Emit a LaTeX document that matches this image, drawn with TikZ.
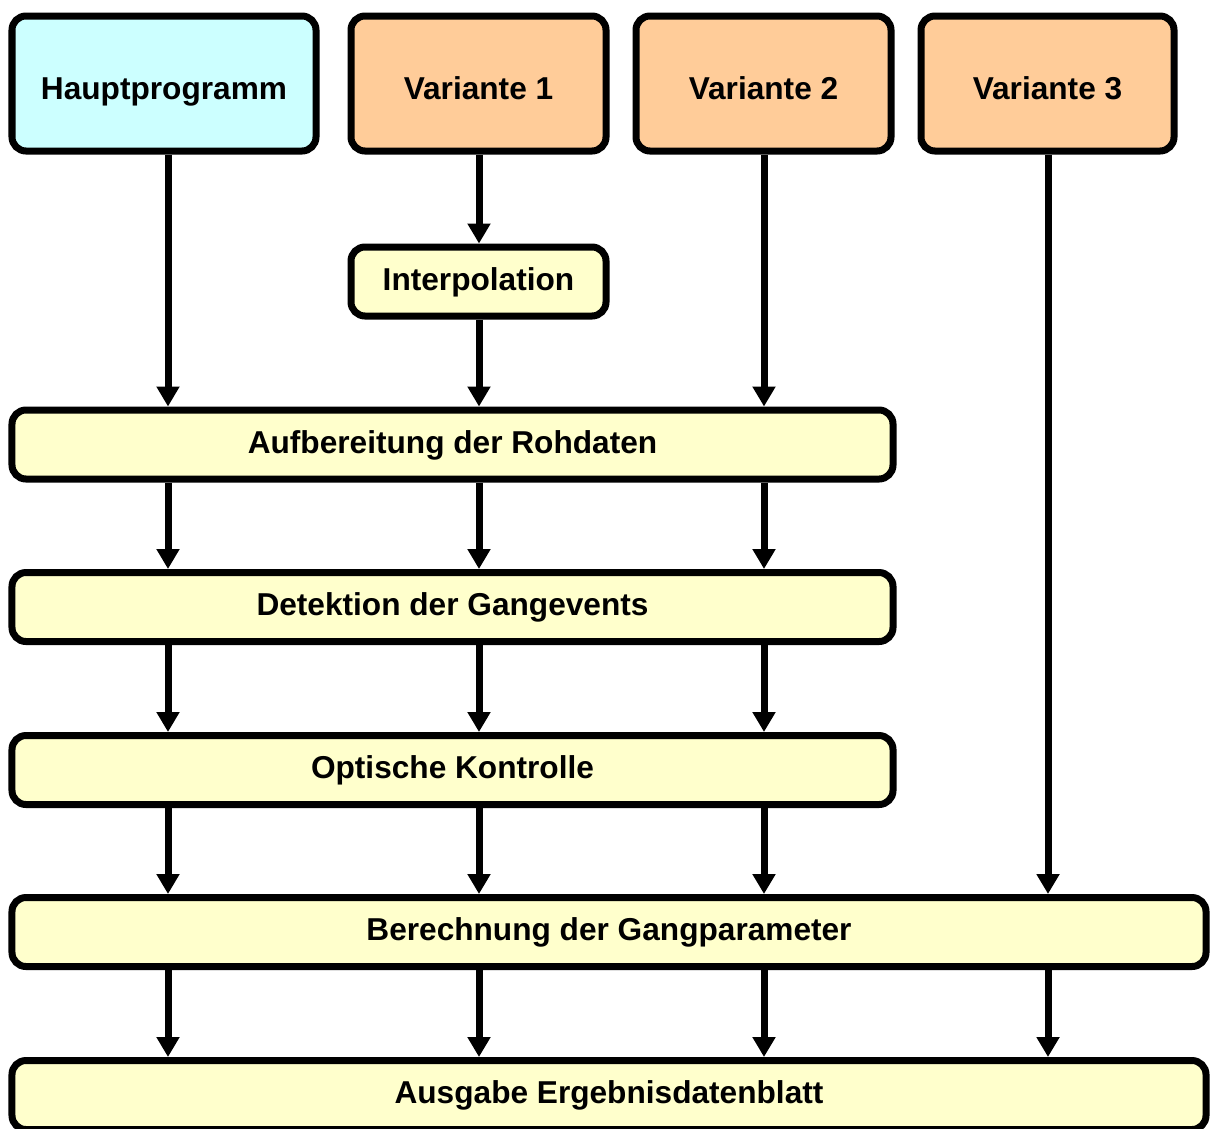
\documentclass[tikz,border=0pt]{standalone}
\usepackage{fontspec}
\setmainfont{Liberation Sans}
\usepackage{xcolor}
\usepackage{tikz}
\usetikzlibrary{arrows.meta, positioning, calc}

\definecolor{mainblue}{HTML}{CCFFFF}
\definecolor{varorange}{HTML}{FFCC99}
\definecolor{steplight}{HTML}{FFFFCC}

\tikzset{
  box/.style={rectangle, rounded corners=0.14cm, draw=black, line width=0.07cm, inner sep=0pt,
    text height=0.72em, text depth=0.21em, font=\fontsize{9}{11}\selectfont\bfseries},
  topbox/.style={box, minimum height=1.35cm, text height=1.1em},
  mainbox/.style={topbox, fill=mainblue, minimum width=3.04cm},
  varbox/.style={topbox, fill=varorange, minimum width=2.55cm},
  stepbox/.style={box, fill=steplight, minimum height=0.69cm},
  arr/.style={line width=0.07cm, -{Triangle[width=0.22cm, length=0.2cm]}}
}

\begin{document}
\begin{tikzpicture}
          \useasboundingbox (0,0) rectangle (12.10,-11.28);

          % column positions of the arrows
          \coordinate (c1) at (1.68,0);
          \coordinate (c2) at (4.79,0);
          \coordinate (c3) at (7.64,0);
          \coordinate (c4) at (10.48,0);

          % top row
          \node[mainbox] (hp) at (1.64,-0.835) {Hauptprogramm};
          \node[varbox] (v1) at (4.785,-0.835) {Variante 1};
          \node[varbox] (v2) at (7.635,-0.835) {Variante 2};
          \node[varbox, minimum width=2.53cm] (v3) at (10.475,-0.835) {Variante 3};

          % processing steps
          \node[stepbox, minimum width=2.55cm] (interp) at (4.785,-2.815) {Interpolation};
          \node[stepbox, minimum width=8.81cm] (auf) at (4.525,-4.445) {Aufbereitung der Rohdaten};
          \node[stepbox, minimum width=8.81cm] (det) at (4.525,-6.07) {Detektion der Gangevents};
          \node[stepbox, minimum width=8.81cm] (opt) at (4.525,-7.70) {Optische Kontrolle};
          \node[stepbox, minimum width=11.94cm] (ber) at (6.09,-9.32) {Berechnung der Gangparameter};
          \node[stepbox, minimum width=11.94cm] (aus) at (6.09,-10.95) {Ausgabe Ergebnisdatenblatt};

          % from the programs
          \draw[arr] (hp.south -| c1) -- (auf.north -| c1);
          \draw[arr] (v1.south -| c2) -- (interp.north -| c2);
          \draw[arr] (interp.south -| c2) -- (auf.north -| c2);
          \draw[arr] (v2.south -| c3) -- (auf.north -| c3);
          \draw[arr] (v3.south -| c4) -- (ber.north -| c4);

          % between the steps
          \draw[arr] (auf.south -| c1) -- (det.north -| c1);
          \draw[arr] (auf.south -| c2) -- (det.north -| c2);
          \draw[arr] (auf.south -| c3) -- (det.north -| c3);

          \draw[arr] (det.south -| c1) -- (opt.north -| c1);
          \draw[arr] (det.south -| c2) -- (opt.north -| c2);
          \draw[arr] (det.south -| c3) -- (opt.north -| c3);

          \draw[arr] (opt.south -| c1) -- (ber.north -| c1);
          \draw[arr] (opt.south -| c2) -- (ber.north -| c2);
          \draw[arr] (opt.south -| c3) -- (ber.north -| c3);

          \draw[arr] (ber.south -| c1) -- (aus.north -| c1);
          \draw[arr] (ber.south -| c2) -- (aus.north -| c2);
          \draw[arr] (ber.south -| c3) -- (aus.north -| c3);
          \draw[arr] (ber.south -| c4) -- (aus.north -| c4);
      \end{tikzpicture}
\end{document}
